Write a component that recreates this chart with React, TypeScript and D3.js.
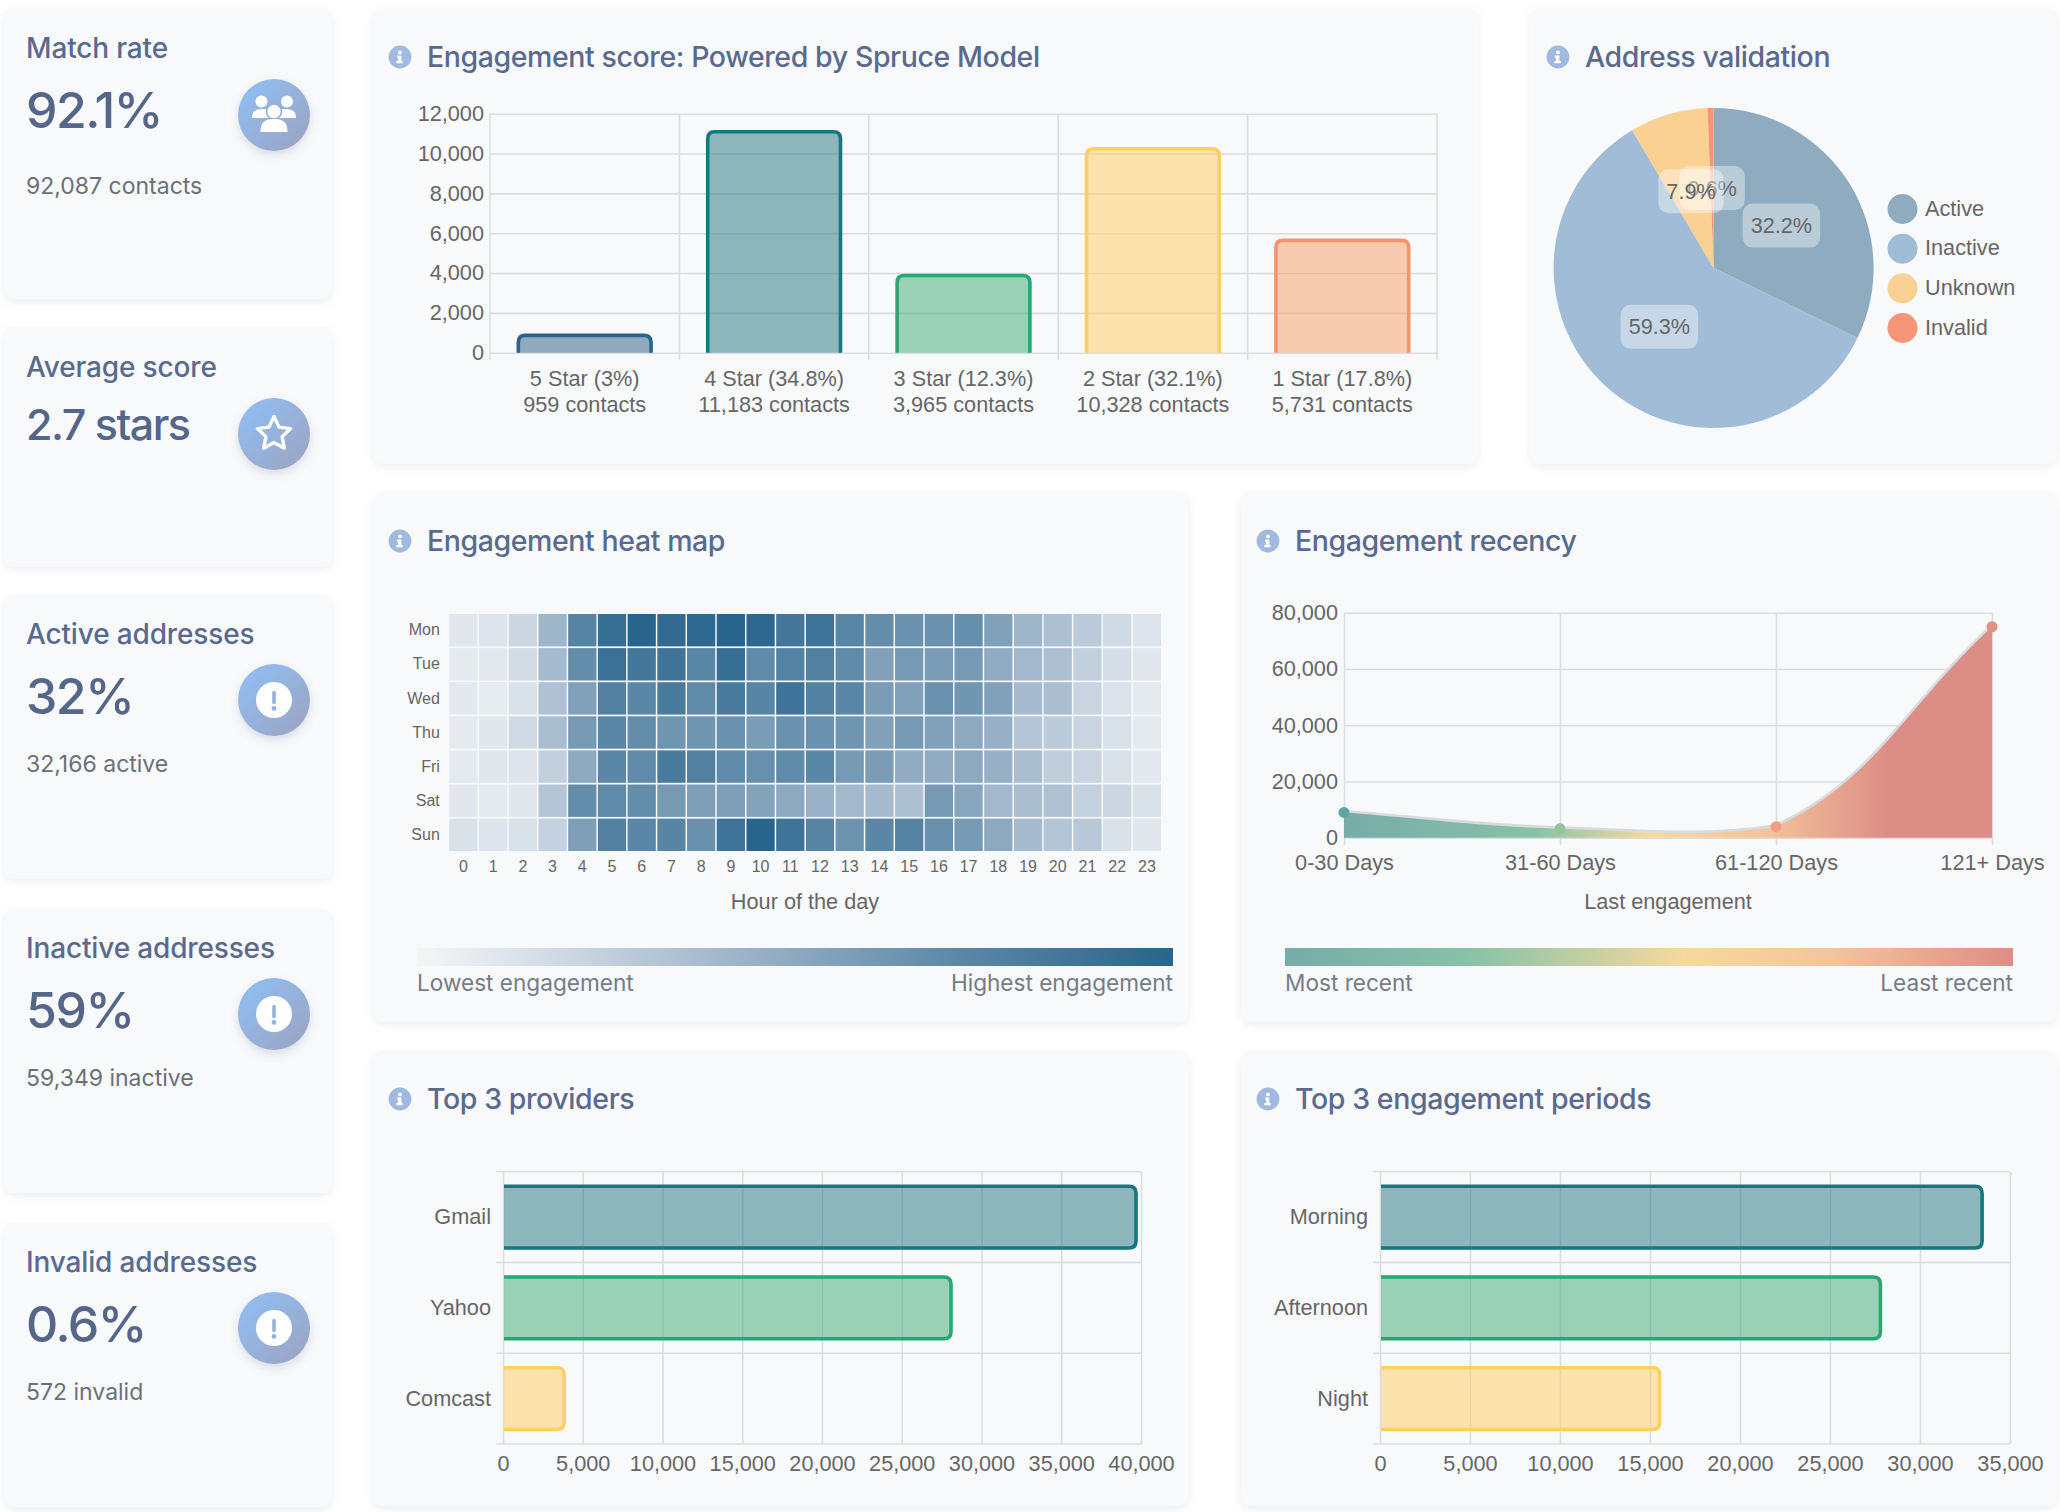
import React, { useEffect, useRef } from 'react';
import * as d3 from 'd3';

// stat cards on the left
const statLabels = ['Match rate', 'Average score', 'Active addresses', 'Inactive addresses', 'Invalid addresses'];
const statValues = ['92.1%', '2.7 stars', '32%', '59%', '0.6%'];
const statNotes = ['92,087 contacts', '', '32,166 active', '59,349 inactive', '572 invalid'];
const statIcons = ['users', 'star', 'alert', 'alert', 'alert'];

// engagement score
const scoreLabels = ['5 Star (3%)', '4 Star (34.8%)', '3 Star (12.3%)', '2 Star (32.1%)', '1 Star (17.8%)'];
const scoreNotes = ['959 contacts', '11,183 contacts', '3,965 contacts', '10,328 contacts', '5,731 contacts'];
const scoreValues = [959, 11183, 3965, 10328, 5731];
const scoreColors = ['#265b7d', '#24737f', '#3ca771', '#ffcd5f', '#f69d65'];
const scoreBorders = ['#2a6489', '#14797f', '#27a874', '#ffcf63', '#f6936f'];

// address validation
const addressLabels = ['Active', 'Inactive', 'Unknown', 'Invalid'];
const addressValues = [32.2, 59.3, 7.9, 0.6];
const addressColors = ['#8eabc0', '#a0bcd7', '#fbd193', '#f79676'];

// heat map
const heatDays = ['Mon', 'Tue', 'Wed', 'Thu', 'Fri', 'Sat', 'Sun'];
const heatHours = d3.range(24).map(String);
const heatMon = [10, 12, 20, 42, 75, 92, 100, 95, 96, 100, 97, 85, 88, 73, 68, 65, 65, 67, 55, 42, 35, 28, 18, 12];
const heatTue = [8, 9, 17, 38, 68, 90, 85, 88, 72, 92, 70, 76, 78, 70, 55, 60, 58, 60, 48, 40, 35, 25, 16, 10];
const heatWed = [9, 7, 14, 34, 55, 78, 72, 82, 70, 82, 74, 88, 77, 72, 58, 55, 65, 62, 55, 38, 36, 22, 13, 8];
const heatThu = [8, 10, 18, 36, 60, 72, 68, 63, 62, 65, 58, 65, 65, 62, 55, 60, 55, 50, 45, 32, 28, 22, 14, 8];
const heatFri = [8, 10, 12, 25, 50, 72, 70, 82, 78, 70, 66, 70, 72, 60, 58, 48, 48, 50, 45, 36, 26, 22, 14, 9];
const heatSat = [10, 8, 10, 32, 68, 70, 68, 60, 56, 56, 54, 50, 44, 40, 38, 35, 60, 52, 40, 36, 34, 24, 20, 14];
const heatSun = [14, 12, 14, 24, 56, 78, 72, 74, 66, 88, 100, 88, 74, 64, 72, 76, 66, 60, 50, 38, 32, 30, 14, 10];
const heatRows = [heatMon, heatTue, heatWed, heatThu, heatFri, heatSat, heatSun];
const heatDomain = [0, 10, 40, 70, 100];
const heatRange = ['#f5f6f6', '#e1e7ed', '#a3b8cc', '#5f8aa8', '#29648c'];

// engagement recency
const recencyLabels = ['0-30 Days', '31-60 Days', '61-120 Days', '121+ Days'];
const recencyValues = [9000, 3200, 3900, 75000];
const recencyPoints = ['#5fa5a0', '#92c596', '#f59c84', '#e58d87'];
const recencyStops = [0, 0.35, 0.56, 0.77, 1];
const recencyColors = ['#77aca8', '#86c2a8', '#f6d99d', '#f4c49b', '#dc8e86'];
const recencyLegendStops = [0, 0.25, 0.55, 0.75, 1];

// top 3 charts
const providerLabels = ['Gmail', 'Yahoo', 'Comcast'];
const providerValues = [39800, 28200, 3950];
const periodLabels = ['Morning', 'Afternoon', 'Night'];
const periodValues = [33550, 27900, 15640];
const topColors = ['#24737f', '#3ca771', '#ffcd5f'];
const topBorders = ['#14797f', '#27a874', '#ffcf63'];

const UI_FONT = 'Inter, "Noto Sans", sans-serif';
const CHART_FONT = '"Liberation Sans", Arial, sans-serif';
const CHART_SIZE = 21.7;
const GRID = '#dcdde0';
const TICK = '#666666';

type Sel = d3.Selection<any, any, any, any>;

function card(svg: Sel, x: number, y: number, w: number, h: number) {
  svg.append('rect')
    .attr('x', x).attr('y', y).attr('width', w).attr('height', h)
    .attr('rx', 9)
    .attr('fill', '#f8f9fb')
    .attr('filter', 'url(#card-shadow)');
}

function title(svg: Sel, text: string, iconX: number, textX: number, y: number) {
  svg.append('circle').attr('cx', iconX).attr('cy', y).attr('r', 11.4).attr('fill', '#9fb9e0');
  svg.append('circle').attr('cx', iconX).attr('cy', y - 4.6).attr('r', 1.9).attr('fill', '#fff');
  svg.append('path')
    .attr('d', `M${iconX - 3},${y - 1.4}h4.4v5.4h1.4v2.2h-6.4v-2.2h1.6v-3.2h-1z`)
    .attr('fill', '#fff');
  svg.append('text')
    .attr('x', textX).attr('y', y + 10)
    .attr('font-family', UI_FONT).attr('font-size', 28.5).attr('font-weight', 500)
    .attr('letter-spacing', -0.41)
    .attr('fill', '#5a6a8f')
    .text(text);
}

function statIcon(svg: Sel, kind: string, cx: number, cy: number) {
  svg.append('circle')
    .attr('cx', cx).attr('cy', cy).attr('r', 36)
    .attr('fill', 'url(#icon-fill)')
    .attr('filter', 'url(#icon-shadow)');
  const g = svg.append('g').attr('transform', `translate(${cx},${cy})`);
  if (kind === 'users') {
    g.append('circle').attr('cx', -12.5).attr('cy', -13.5).attr('r', 6).attr('fill', '#fff');
    g.append('circle').attr('cx', 13).attr('cy', -13.5).attr('r', 6).attr('fill', '#fff');
    g.append('path').attr('d', 'M-22,3 C-22,-6 -16,-6 -8,-6 L-4,3 Z').attr('fill', '#fff');
    g.append('path').attr('d', 'M22,3 C22,-6 16,-6 8,-6 L4,3 Z').attr('fill', '#fff');
    g.append('circle').attr('cx', 0).attr('cy', -3.5).attr('r', 7.5).attr('fill', '#fff').attr('stroke', '#94aedb').attr('stroke-width', 1.6);
    g.append('path').attr('d', 'M-13.5,17 C-13.5,6 -8,4 0,4 C8,4 13.5,6 13.5,17 Z').attr('fill', '#fff');
  } else if (kind === 'star') {
    const star = d3.lineRadial<number>()
      .angle((_, i) => (i * Math.PI) / 5)
      .radius((d) => d)
      .curve(d3.curveLinearClosed);
    g.append('path')
      .attr('d', star([17.5, 8.5, 17.5, 8.5, 17.5, 8.5, 17.5, 8.5, 17.5, 8.5]) as string)
      .attr('fill', 'none').attr('stroke', '#fff').attr('stroke-width', 3.4).attr('stroke-linejoin', 'round');
  } else {
    g.append('circle').attr('r', 18).attr('fill', '#fff');
    g.append('line').attr('y1', -7.5).attr('y2', 2.5)
      .attr('stroke', '#93b3e0').attr('stroke-width', 3.6).attr('stroke-linecap', 'round');
    g.append('circle').attr('cy', 8.4).attr('r', 2.4).attr('fill', '#93b3e0');
  }
}

function styleAxis(g: Sel, size = CHART_SIZE) {
  g.select('.domain').remove();
  g.selectAll('text').attr('font-family', CHART_FONT).attr('font-size', size).attr('fill', TICK);
  g.selectAll('line').attr('stroke', GRID).attr('stroke-width', 1.6);
}

// rounded bar growing up from the axis, bottom edge has no border
function drawUpBar(svg: Sel, x: number, w: number, top: number, bottom: number, fill: string, stroke: string) {
  const r = 7;
  const i = 1.8;
  const edge = `M${x + i},${bottom} V${top + i + r} Q${x + i},${top + i} ${x + i + r},${top + i} H${x + w - i - r} Q${x + w - i},${top + i} ${x + w - i},${top + i + r} V${bottom}`;
  svg.append('path').attr('d', edge + ' Z').attr('fill', fill).attr('fill-opacity', 0.5);
  svg.append('path').attr('d', edge).attr('fill', 'none').attr('stroke', stroke).attr('stroke-width', 3.6);
}

// rounded bar growing right from the axis, left edge has no border
function drawRightBar(svg: Sel, left: number, right: number, y: number, h: number, fill: string, stroke: string) {
  const r = 7;
  const i = 1.8;
  const edge = `M${left},${y + i} H${right - i - r} Q${right - i},${y + i} ${right - i},${y + i + r} V${y + h - i - r} Q${right - i},${y + h - i} ${right - i - r},${y + h - i} H${left}`;
  svg.append('path').attr('d', edge + ' Z').attr('fill', fill).attr('fill-opacity', 0.5);
  svg.append('path').attr('d', edge).attr('fill', 'none').attr('stroke', stroke).attr('stroke-width', 3.6);
}

function drawTopChart(
  svg: Sel,
  labels: string[],
  values: number[],
  maxValue: number,
  left: number,
  right: number,
) {
  const top = 1171.7;
  const bottom = 1444;
  const x = d3.scaleLinear().domain([0, maxValue]).range([left, right]);
  const y = d3.scaleBand().domain(labels).range([top, bottom]);

  const xAxis = svg.append('g')
    .attr('transform', `translate(0,${bottom})`)
    .call(d3.axisBottom(x).ticks(maxValue / 5000).tickSize(-(bottom - top)).tickPadding(12).tickFormat(d3.format(',') as any));
  styleAxis(xAxis);

  // row lines sit on the band edges
  d3.range(labels.length + 1).forEach((i) => {
    svg.append('line')
      .attr('x1', left - 7).attr('x2', right)
      .attr('y1', top + i * y.bandwidth()).attr('y2', top + i * y.bandwidth())
      .attr('stroke', GRID).attr('stroke-width', 1.6);
  });

  labels.forEach((label, i) => {
    const h = y.bandwidth() * 0.72;
    const by = y(label)! + (y.bandwidth() - h) / 2;
    drawRightBar(svg, left + 1, x(values[i]), by, h, topColors[i], topBorders[i]);
  });

  const yAxis = svg.append('g')
    .attr('transform', `translate(${left},0)`)
    .call(d3.axisLeft(y).tickSize(0).tickPadding(12));
  styleAxis(yAxis);
}

function legendBar(svg: Sel, id: string, x0: number, x1: number, low: string, high: string) {
  svg.append('rect')
    .attr('x', x0).attr('y', 948).attr('width', x1 - x0).attr('height', 18)
    .attr('fill', `url(#${id})`);
  [[x0, 'start', low], [x1, 'end', high]].forEach(([x, anchor, text]) => {
    svg.append('text')
      .attr('x', x as number).attr('y', 991)
      .attr('text-anchor', anchor as string)
      .attr('font-family', UI_FONT).attr('font-size', 22.6).attr('fill', '#767b85')
      .text(text as string);
  });
}

// same spline the original chart used: tension 0.4, control points weighted
// by segment length and capped to the plot area
function splinePath(pts: [number, number][], x0: number, x1: number, y0: number, y1: number) {
  const t = 0.4;
  const cap = (p: [number, number]): [number, number] => [
    Math.max(x0, Math.min(x1, p[0])),
    Math.max(y0, Math.min(y1, p[1])),
  ];
  const handles = pts.map((cur, i) => {
    const prev = pts[i - 1] || cur;
    const next = pts[i + 1] || cur;
    const d01 = Math.hypot(cur[0] - prev[0], cur[1] - prev[1]);
    const d12 = Math.hypot(next[0] - cur[0], next[1] - cur[1]);
    const fa = (t * d01) / (d01 + d12);
    const fb = (t * d12) / (d01 + d12);
    return {
      before: cap([cur[0] - fa * (next[0] - prev[0]), cur[1] - fa * (next[1] - prev[1])]),
      after: cap([cur[0] + fb * (next[0] - prev[0]), cur[1] + fb * (next[1] - prev[1])]),
    };
  });
  const path = d3.path();
  path.moveTo(pts[0][0], pts[0][1]);
  pts.slice(1).forEach((p, i) => {
    const a = handles[i].after;
    const b = handles[i + 1].before;
    path.bezierCurveTo(a[0], a[1], b[0], b[1], p[0], p[1]);
  });
  return path.toString();
}

const App: React.FC = () => {
  const svgRef = useRef<SVGSVGElement>(null);

  useEffect(() => {
    if (!svgRef.current) return;
    const svg = d3.select(svgRef.current);
    svg.selectAll('*').remove();

    // Shared defs
    const defs = svg.append('defs');
    const cardShadow = defs.append('filter').attr('id', 'card-shadow')
      .attr('x', '-5%').attr('y', '-5%').attr('width', '110%').attr('height', '112%');
    cardShadow.append('feDropShadow')
      .attr('dx', 0).attr('dy', 3).attr('stdDeviation', 4)
      .attr('flood-color', '#8a94a6').attr('flood-opacity', 0.16);
    const iconShadow = defs.append('filter').attr('id', 'icon-shadow')
      .attr('x', '-30%').attr('y', '-30%').attr('width', '160%').attr('height', '160%');
    iconShadow.append('feDropShadow')
      .attr('dx', 0).attr('dy', 4).attr('stdDeviation', 4)
      .attr('flood-color', '#6b7890').attr('flood-opacity', 0.22);
    const iconFill = defs.append('linearGradient').attr('id', 'icon-fill')
      .attr('x1', '10%').attr('y1', '10%').attr('x2', '90%').attr('y2', '90%');
    iconFill.append('stop').attr('offset', '0%').attr('stop-color', '#90bdf2');
    iconFill.append('stop').attr('offset', '100%').attr('stop-color', '#9ba6c5');

    const heatColor = d3.scaleLinear<string>().domain(heatDomain).range(heatRange);
    const heatLegend = defs.append('linearGradient').attr('id', 'heat-legend');
    heatDomain.forEach((d) => {
      heatLegend.append('stop').attr('offset', `${d}%`).attr('stop-color', heatColor(d));
    });

    const recencyLegend = defs.append('linearGradient').attr('id', 'recency-legend');
    recencyLegendStops.forEach((s, i) => {
      recencyLegend.append('stop').attr('offset', s).attr('stop-color', recencyColors[i]);
    });
    const recencyFill = defs.append('linearGradient').attr('id', 'recency-fill')
      .attr('gradientUnits', 'userSpaceOnUse')
      .attr('x1', 1344).attr('x2', 1888).attr('y1', 0).attr('y2', 0);
    recencyStops.forEach((s, i) => {
      recencyFill.append('stop').attr('offset', s).attr('stop-color', recencyColors[i]);
    });

    // Cards
    card(svg, 4, 8, 328, 291);
    card(svg, 4, 327, 328, 240);
    card(svg, 4, 595, 328, 284);
    card(svg, 4, 909, 328, 284);
    card(svg, 4, 1223, 328, 284);
    card(svg, 373, 8, 1105, 456);
    card(svg, 1530, 8, 527, 456);
    card(svg, 373, 492, 816, 530);
    card(svg, 1241, 492, 816, 530);
    card(svg, 373, 1051, 816, 455);
    card(svg, 1241, 1051, 816, 455);

    // Stat cards
    const statTops = [8, 327, 595, 909, 1223];
    statLabels.forEach((label, i) => {
      const top = statTops[i];
      const big = i === 1 ? 43 : 50;
      const valueOffset = i === 1 ? 98 : i === 0 ? 102 : 101;
      svg.append('text')
        .attr('x', 26).attr('y', top + (i < 2 ? 50 : 49))
        .attr('font-family', UI_FONT).attr('font-size', 28).attr('font-weight', 500).attr('fill', '#5a6a8f')
        .attr('letter-spacing', -0.15)
        .text(label);
      svg.append('text')
        .attr('x', 26).attr('y', top + valueOffset + big * 0.36)
        .attr('font-family', UI_FONT).attr('font-size', big).attr('font-weight', 500).attr('fill', '#566689')
        .attr('letter-spacing', -1.5)
        .text(statValues[i]);
      if (statNotes[i]) {
        svg.append('text')
          .attr('x', 26).attr('y', top + (i === 0 ? 186 : 177))
          .attr('font-family', UI_FONT).attr('font-size', 23).attr('fill', '#6b7078')
          .text(statNotes[i]);
      }
      statIcon(svg, statIcons[i], 274, top + (i < 2 ? 107 : 105));
    });

    // Engagement score
    title(svg, 'Engagement score: Powered by Spruce Model', 400, 427, 57);
    const scoreLeft = 490;
    const scoreRight = 1437;
    const scoreTop = 113.7;
    const scoreBottom = 352.7;
    const scoreX = d3.scaleBand().domain(scoreLabels).range([scoreLeft, scoreRight]);
    const scoreY = d3.scaleLinear().domain([0, 12000]).range([scoreBottom, scoreTop]);

    const scoreYAxis = svg.append('g')
      .attr('transform', `translate(${scoreLeft},0)`)
      .call(d3.axisLeft(scoreY).ticks(6).tickSize(-(scoreRight - scoreLeft)).tickPadding(6).tickFormat(d3.format(',') as any));
    styleAxis(scoreYAxis);
    d3.range(scoreLabels.length + 1).forEach((i) => {
      const x = scoreLeft + i * scoreX.bandwidth();
      svg.append('line').attr('x1', x).attr('x2', x).attr('y1', scoreTop).attr('y2', scoreBottom + 7)
        .attr('stroke', GRID).attr('stroke-width', 1.6);
    });
    scoreLabels.forEach((label, i) => {
      const w = scoreX.bandwidth() * 0.72;
      drawUpBar(svg, scoreX(label)! + (scoreX.bandwidth() - w) / 2, w, scoreY(scoreValues[i]), scoreBottom, scoreColors[i], scoreBorders[i]);
    });
    const scoreXAxis = svg.append('g')
      .attr('transform', `translate(0,${scoreBottom})`)
      .call(d3.axisBottom(scoreX).tickSize(0));
    styleAxis(scoreXAxis);
    scoreXAxis.selectAll<SVGTextElement, string>('text').each(function (d, i) {
      const t = d3.select(this).attr('y', 33).attr('dy', null).text(null);
      t.append('tspan').attr('x', 0).text(d);
      t.append('tspan').attr('x', 0).attr('dy', 26).text(scoreNotes[i]);
    });

    // Address validation
    title(svg, 'Address validation', 1558, 1585, 57);
    const pie = d3.pie<number>().sort(null)(addressValues);
    const arc = d3.arc<d3.PieArcDatum<number>>().innerRadius(0).outerRadius(160);
    const pieG = svg.append('g').attr('transform', 'translate(1713.6,268)');
    pieG.selectAll('path').data(pie).enter().append('path')
      .attr('d', arc)
      .attr('fill', (_, i) => addressColors[i]);
    // the small slice's label goes under its neighbour, as in the source
    [0, 1, 3, 2].forEach((i) => {
      const [cx, cy] = arc.centroid(pie[i]);
      const label = pieG.append('text')
        .attr('x', cx).attr('y', cy + 7.5)
        .attr('text-anchor', 'middle')
        .attr('font-family', CHART_FONT).attr('font-size', CHART_SIZE).attr('fill', TICK)
        .text(`${addressValues[i]}%`);
      const w = (label.node() as SVGTextElement).getComputedTextLength() + 16;
      pieG.insert('rect', () => label.node() as any)
        .attr('x', cx - w / 2).attr('y', cy - 22).attr('width', w).attr('height', 44).attr('rx', 10)
        .attr('fill', '#fff').attr('fill-opacity', 0.4);
    });
    const legendY = d3.scalePoint().domain(addressLabels).range([209, 328]);
    addressLabels.forEach((label, i) => {
      svg.append('circle').attr('cx', 1902.5).attr('cy', legendY(label)!).attr('r', 15).attr('fill', addressColors[i]);
      svg.append('text')
        .attr('x', 1925).attr('y', legendY(label)! + 6.5)
        .attr('font-family', CHART_FONT).attr('font-size', CHART_SIZE).attr('fill', TICK)
        .text(label);
    });

    // Heat map
    title(svg, 'Engagement heat map', 400, 427, 541);
    const heatX = d3.scaleBand().domain(heatHours).range([449.3, 1161]).paddingInner(0.05);
    const heatY = d3.scaleBand().domain(heatDays).range([614, 851]).paddingInner(0.05);
    heatDays.forEach((day, r) => {
      svg.append('g').selectAll('rect').data(heatRows[r]).enter().append('rect')
        .attr('x', (_, c) => heatX(heatHours[c])!)
        .attr('y', heatY(day)!)
        .attr('width', heatX.bandwidth())
        .attr('height', heatY.bandwidth())
        .attr('fill', (d) => heatColor(d));
    });
    styleAxis(svg.append('g').attr('transform', 'translate(449.3,0)').call(d3.axisLeft(heatY).tickSize(0).tickPadding(9.5)), 16);
    styleAxis(svg.append('g').attr('transform', 'translate(0,851)').call(d3.axisBottom(heatX).tickSize(0).tickPadding(9.5)), 16);
    svg.append('text')
      .attr('x', 805).attr('y', 909)
      .attr('text-anchor', 'middle')
      .attr('font-family', CHART_FONT).attr('font-size', CHART_SIZE).attr('fill', TICK)
      .text('Hour of the day');
    legendBar(svg, 'heat-legend', 417, 1173, 'Lowest engagement', 'Highest engagement');

    // Engagement recency
    title(svg, 'Engagement recency', 1268, 1295, 541);
    const recLeft = 1344;
    const recRight = 1992;
    const recTop = 612.7;
    const recBottom = 837.7;
    const recX = d3.scalePoint().domain(recencyLabels).range([recLeft, recRight]);
    const recY = d3.scaleLinear().domain([0, 80000]).range([recBottom, recTop]);
    styleAxis(svg.append('g')
      .attr('transform', `translate(${recLeft},0)`)
      .call(d3.axisLeft(recY).ticks(4).tickSize(-(recRight - recLeft)).tickPadding(6).tickFormat(d3.format(',') as any)));
    const recXAxis = svg.append('g')
      .attr('transform', `translate(0,${recBottom})`)
      .call(d3.axisBottom(recX).tickSize(-(recBottom - recTop)).tickPadding(17));
    styleAxis(recXAxis);
    recXAxis.selectAll('line').attr('y1', 7);

    const recPoints = recencyValues.map((v, i): [number, number] => [recX(recencyLabels[i])!, recY(v)]);
    const recLine = splinePath(recPoints, recLeft, recRight, recTop, recBottom);
    svg.append('path').attr('d', recLine)
      .attr('fill', 'none').attr('stroke', '#d9dadd').attr('stroke-width', 5);
    svg.append('path').attr('d', `${recLine}L${recRight},${recBottom}L${recLeft},${recBottom}Z`)
      .attr('fill', 'url(#recency-fill)');
    recPoints.forEach(([cx, cy], i) => {
      svg.append('circle').attr('cx', cx).attr('cy', cy).attr('r', 5.5).attr('fill', recencyPoints[i]);
    });
    svg.append('text')
      .attr('x', 1668).attr('y', 909)
      .attr('text-anchor', 'middle')
      .attr('font-family', CHART_FONT).attr('font-size', CHART_SIZE).attr('fill', TICK)
      .text('Last engagement');
    legendBar(svg, 'recency-legend', 1285, 2013, 'Most recent', 'Least recent');

    // Top 3 charts
    title(svg, 'Top 3 providers', 400, 427, 1099);
    drawTopChart(svg, providerLabels, providerValues, 40000, 503, 1141);
    title(svg, 'Top 3 engagement periods', 1268, 1295, 1099);
    drawTopChart(svg, periodLabels, periodValues, 35000, 1380, 2010);
  }, []);

  return (
    <svg
      ref={svgRef}
      width={2060}
      height={1512}
      style={{ position: 'absolute', left: 0, top: 0, display: 'block', background: '#fff' }}
    />
  );
};

export default App;
